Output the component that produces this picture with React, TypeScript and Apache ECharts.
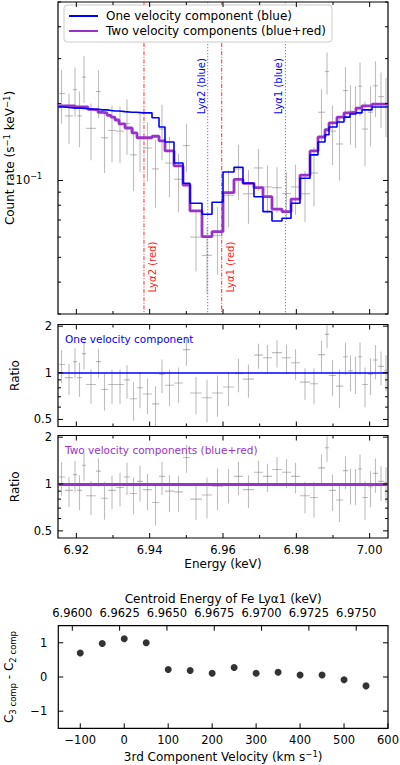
import React, { useEffect, useRef } from "react";
import * as echarts from "echarts";

const binEdges = [6.915, 6.91691, 6.91909, 6.92018, 6.92155, 6.92264, 6.92536, 6.92673, 6.92864, 6.93082, 6.933, 6.93464, 6.93655, 6.93818, 6.94064, 6.94255, 6.94418, 6.94664, 6.94909, 6.951, 6.95427, 6.957, 6.96, 6.963, 6.96545, 6.96845, 6.97091, 6.97336, 6.97609, 6.97855, 6.981, 6.98373, 6.98591, 6.98782, 6.98891, 6.99082, 6.99273, 6.99409, 6.99545, 6.99682, 6.99791, 6.99955, 7.00091, 7.00227, 7.00391, 7.005];
const countRate = [0.219, 0.179, 0.227, 0.179, 0.254, 0.16, 0.223, 0.147, 0.157, 0.156, 0.167, 0.126, 0.147, 0.134, 0.111, 0.159, 0.117, 0.101, 0.137, 0.06, 0.0509, 0.0608, 0.0875, 0.111, 0.0887, 0.112, 0.0944, 0.0937, 0.0889, 0.0944, 0.0887, 0.107, 0.185, 0.267, 0.156, 0.139, 0.225, 0.187, 0.184, 0.234, 0.159, 0.185, 0.235, 0.213, 0.2];
const countErr = [0.052, 0.04, 0.05, 0.044, 0.053, 0.04, 0.047, 0.04, 0.039, 0.039, 0.041, 0.035, 0.039, 0.035, 0.033, 0.039, 0.031, 0.026, 0.029, 0.016, 0.015, 0.018, 0.022, 0.027, 0.021, 0.021, 0.02, 0.019, 0.019, 0.021, 0.02, 0.028, 0.042, 0.05, 0.041, 0.039, 0.053, 0.049, 0.05, 0.055, 0.045, 0.049, 0.058, 0.052, 0.052];
const ratioOne = [1.13, 0.93, 1.18, 0.93, 1.33, 0.84, 1.18, 0.78, 0.84, 0.84, 0.9, 0.68, 0.8, 0.73, 0.63, 0.98, 0.83, 0.86, 1.41, 0.74, 0.69, 0.74, 0.81, 0.99, 0.91, 1.3, 1.25, 1.35, 1.25, 1.16, 0.87, 0.85, 1.31, 1.77, 0.96, 0.82, 1.27, 1.03, 1.0, 1.27, 0.84, 0.98, 1.21, 1.1, 1.03];
const ratioOneErr = [0.27, 0.21, 0.26, 0.23, 0.28, 0.21, 0.25, 0.21, 0.21, 0.21, 0.22, 0.19, 0.21, 0.19, 0.19, 0.24, 0.22, 0.22, 0.3, 0.2, 0.21, 0.22, 0.2, 0.24, 0.22, 0.24, 0.26, 0.27, 0.27, 0.26, 0.2, 0.22, 0.3, 0.33, 0.25, 0.23, 0.3, 0.27, 0.27, 0.3, 0.24, 0.26, 0.3, 0.27, 0.27];
const ratioTwo = [1.11, 0.91, 1.15, 0.91, 1.32, 0.84, 1.21, 0.81, 0.91, 0.95, 1.11, 0.87, 1.04, 0.92, 0.76, 1.12, 0.9, 0.89, 1.48, 0.8, 0.85, 0.97, 1.0, 1.12, 0.92, 1.19, 1.12, 1.24, 1.19, 1.12, 0.84, 0.82, 1.27, 1.71, 0.91, 0.79, 1.22, 1.0, 0.99, 1.25, 0.82, 0.96, 1.17, 1.04, 1.02];
const ratioTwoErr = [0.27, 0.2, 0.26, 0.23, 0.27, 0.21, 0.25, 0.22, 0.22, 0.23, 0.26, 0.23, 0.27, 0.24, 0.22, 0.27, 0.24, 0.23, 0.3, 0.21, 0.25, 0.29, 0.25, 0.27, 0.22, 0.22, 0.23, 0.25, 0.25, 0.25, 0.19, 0.21, 0.28, 0.32, 0.24, 0.22, 0.29, 0.26, 0.26, 0.29, 0.23, 0.25, 0.29, 0.26, 0.26];

const modelEdges = [6.915, 6.91664, 6.918, 6.91964, 6.92127, 6.92318, 6.92455, 6.92591, 6.92727, 6.92836, 6.92945, 6.93055, 6.93164, 6.93327, 6.93518, 6.93655, 6.93818, 6.94064, 6.94255, 6.94418, 6.94664, 6.94909, 6.951, 6.95427, 6.957, 6.96, 6.963, 6.96545, 6.96845, 6.97091, 6.97336, 6.97609, 6.97855, 6.981, 6.98373, 6.98591, 6.98782, 6.98891, 6.99109, 6.993, 6.99464, 6.99627, 6.99791, 7.00064, 7.00282, 7.005];
const modelBlue = [0.194, 0.193, 0.192, 0.192, 0.191, 0.19, 0.19, 0.189, 0.189, 0.188, 0.187, 0.187, 0.186, 0.185, 0.185, 0.184, 0.184, 0.176, 0.162, 0.1415, 0.117, 0.0975, 0.0814, 0.0737, 0.0822, 0.108, 0.1126, 0.0975, 0.0864, 0.0755, 0.0694, 0.0711, 0.0814, 0.102, 0.126, 0.1415, 0.151, 0.162, 0.1695, 0.177, 0.182, 0.184, 0.189, 0.194, 0.194];
const modelPurple = [0.196, 0.196, 0.196, 0.194, 0.194, 0.19, 0.189, 0.185, 0.184, 0.18, 0.177, 0.1725, 0.1665, 0.1605, 0.1535, 0.147, 0.147, 0.149, 0.143, 0.1305, 0.114, 0.096, 0.076, 0.0603, 0.063, 0.0896, 0.101, 0.0975, 0.0937, 0.0864, 0.0773, 0.0755, 0.0846, 0.105, 0.1305, 0.148, 0.158, 0.168, 0.177, 0.184, 0.185, 0.192, 0.196, 0.199, 0.199];

const redLines = [6.93845, 6.95965];
const redLabels = ["Lyα2 (red)", "Lyα1 (red)"];
const blueLines = [6.95583, 6.97702];
const blueLabels = ["Lyα2 (blue)", "Lyα1 (blue)"];

const velocity = [-100, -50, 0, 50, 100, 150, 200, 250, 300, 350, 400, 450, 500, 550];
const deltaC = [0.7, 0.98, 1.12, 1.0, 0.22, 0.19, 0.11, 0.28, 0.11, 0.14, 0.06, 0.06, -0.08, -0.26];

const energyTicks = [6.92, 6.94, 6.96, 6.98, 7.0];
const energyMinorTicks = [6.93, 6.95, 6.97, 6.99];
const countTicks = [0.1];
const countMinorTicks = [0.03, 0.04, 0.05, 0.06, 0.07, 0.08, 0.09, 0.2, 0.3, 0.4, 0.5];
const ratioTicks = [0.5, 1, 2];
const ratioMinorTicks = [0.6, 0.7, 0.8, 0.9];
const velocityTicks = [-100, 0, 100, 200, 300, 400, 500, 600];
const centroidTicks = [6.96, 6.9625, 6.965, 6.9675, 6.97, 6.9725, 6.975];
const deltaTicks = [-1, 0, 1];

const BLUE = "#0000ff";
const PURPLE = "#9932cc";
const RED = "#ff1a1a";
const GRAY = "rgba(125,125,125,0.5)";
const FONT = "DejaVu Sans";

const GRIDS = [
  { left: 58, top: 2, width: 330, height: 312 },
  { left: 58, top: 324.5, width: 330, height: 102 },
  { left: 58, top: 435.5, width: 330, height: 102.5 },
  { left: 58.3, top: 625.7, width: 329.7, height: 102.6 },
];

const near = (a: number, b: number) => Math.abs(a - b) < 1e-6 * Math.max(1, Math.abs(b));
const minus = (v: number) => (v < 0 ? "\u2212" + Math.abs(v) : String(v));

const errItems = (vals: number[], errs: number[]) =>
  vals.map((v, i) => [binEdges[i], binEdges[i + 1], (binEdges[i] + binEdges[i + 1]) / 2, v, v - errs[i], v + errs[i]]);

const stepData = (vals: number[]) => {
  const d = vals.map((v, i) => [modelEdges[i], v]);
  d.push([modelEdges[modelEdges.length - 1], vals[vals.length - 1]]);
  return d;
};

const renderErr = (params: any, api: any) => {
  const a = api.coord([api.value(0), api.value(3)]);
  const b = api.coord([api.value(1), api.value(3)]);
  const c = api.coord([api.value(2), api.value(4)]);
  const d = api.coord([api.value(2), api.value(5)]);
  const style = { stroke: GRAY, lineWidth: 1.1 };
  return {
    type: "group",
    children: [
      { type: "line", shape: { x1: a[0], y1: a[1], x2: b[0], y2: b[1] }, style },
      { type: "line", shape: { x1: c[0], y1: c[1], x2: d[0], y2: d[1] }, style },
    ],
  };
};

const vLineSeries = (vals: number[], color: string, dash: number[], width: number, opacity: number) => ({
  type: "custom",
  xAxisIndex: 0,
  yAxisIndex: 0,
  data: vals.map((x) => [x, 0.1]),
  encode: { x: 0, y: 1 },
  silent: true,
  z: 3,
  renderItem: (params: any, api: any) => {
    const p = api.coord([api.value(0), api.value(1)]);
    const cs = params.coordSys;
    return {
      type: "line",
      shape: { x1: p[0], y1: cs.y, x2: p[0], y2: cs.y + cs.height },
      style: { stroke: color, lineWidth: width, lineDash: dash, opacity },
    };
  },
});

const supRich = {
  n: { fontSize: 12, lineHeight: 16, fontFamily: FONT, color: "#000" },
  s: { fontSize: 8.5, lineHeight: 9, verticalAlign: "top", fontFamily: FONT, color: "#000" },
  b: { fontSize: 8.5, lineHeight: 9, verticalAlign: "bottom", fontFamily: FONT, color: "#000" },
};

const energyAxis = (gi: number, show: boolean) => ({
  type: "value",
  gridIndex: gi,
  min: 6.915,
  max: 7.005,
  interval: 0.005,
  axisLine: { show: false },
  axisTick: { show: false },
  splitLine: { show: false },
  axisLabel: show
    ? {
        margin: 6,
        fontSize: 11.5,
        color: "#000",
        formatter: (v: number) => (near(v / 0.02, Math.round(v / 0.02)) ? v.toFixed(2) : ""),
      }
    : { show: false },
  ...(show
    ? {
        name: "Energy (keV)",
        nameLocation: "middle",
        nameGap: 20,
        nameMoveOverlap: false,
        nameTextStyle: { fontSize: 12, color: "#000", verticalAlign: "top" },
      }
    : {}),
});

const ratioAxis = (gi: number) => ({
  type: "log",
  logBase: 2,
  gridIndex: gi,
  min: 0.45,
  max: 2.05,
  axisLine: { show: false },
  axisTick: { show: false },
  splitLine: { show: false },
  axisLabel: {
    margin: 6,
    fontSize: 11.5,
    color: "#000",
    formatter: (v: number) => (near(v, 0.5) ? "0.5" : near(v, 1) ? "1" : near(v, 2) ? "2" : ""),
  },
  name: "Ratio",
  nameLocation: "middle",
  nameGap: 37,
  nameMoveOverlap: false,
  nameTextStyle: { fontSize: 12, color: "#000" },
});

function buildOption() {
  return {
    animation: false,
    textStyle: { fontFamily: FONT },
    grid: GRIDS.map((g) => ({
      ...g,
      show: true,
      borderColor: "#000",
      borderWidth: 1.2,
      containLabel: false,
      outerBoundsMode: "none",
    })),
    legend: {
      data: ["One velocity component (blue)", "Two velocity components (blue+red)"],
      orient: "vertical",
      left: 64,
      top: 5,
      itemWidth: 29,
      itemHeight: 14,
      itemGap: 3,
      padding: [5, 6, 5, 4],
      backgroundColor: "rgba(255,255,255,0.85)",
      borderColor: "#cccccc",
      borderWidth: 1,
      borderRadius: 3,
      selectedMode: false,
      z: 20,
      itemStyle: { color: "rgba(0,0,0,0)", borderWidth: 0, opacity: 0 },
      textStyle: { fontSize: 12, fontFamily: FONT, color: "#000", padding: [0, 0, 0, 3] },
    },
    xAxis: [
      energyAxis(0, false),
      energyAxis(1, false),
      energyAxis(2, true),
      {
        type: "value",
        gridIndex: 3,
        min: -150,
        max: 600,
        interval: 50,
        axisLine: { show: false },
        axisTick: { show: false },
        splitLine: { show: false },
        axisLabel: {
          margin: 6,
          fontSize: 11.5,
          color: "#000",
          formatter: (v: number) => (Math.round(v) % 100 === 0 ? minus(Math.round(v)) : ""),
        },
        name: "3rd Component Velocity (km s{s|\u22121})",
        nameLocation: "middle",
        nameGap: 21,
        nameMoveOverlap: false,
        nameTextStyle: { fontSize: 12, color: "#000", lineHeight: 16, verticalAlign: "top", rich: supRich },
      },
      {
        type: "value",
        gridIndex: 3,
        position: "top",
        min: 6.95926,
        max: 6.97668,
        axisLine: { show: false },
        axisTick: { show: false },
        splitLine: { show: false },
        axisLabel: {
          margin: 7,
          fontSize: 11.5,
          color: "#000",
          customValues: centroidTicks,
          formatter: (v: number) => v.toFixed(4),
        },
        name: "Centroid Energy of Fe Lyα1 (keV)",
        nameLocation: "middle",
        nameGap: 21,
        nameMoveOverlap: false,
        nameTextStyle: { fontSize: 12, color: "#000", verticalAlign: "bottom" },
      },
    ],
    yAxis: [
      {
        type: "log",
        logBase: 10,
        gridIndex: 0,
        min: 0.03,
        max: 0.5,
        axisLine: { show: false },
        axisTick: { show: false },
        splitLine: { show: false },
        axisLabel: {
          margin: 16,
          color: "#000",
          formatter: (v: number) => (near(v, 0.1) ? "{m|10}{t|\u22121}" : ""),
          rich: {
            m: { fontSize: 11.5, lineHeight: 15, fontFamily: FONT, color: "#000" },
            t: { fontSize: 8, lineHeight: 9, verticalAlign: "top", fontFamily: FONT, color: "#000" },
          },
        },
        name: "{n|Count rate (s}{s|\u22121}{n| keV}{s|\u22121}{n|)}",
        nameLocation: "middle",
        nameGap: 40,
        nameMoveOverlap: false,
        nameTextStyle: { rich: supRich },
      },
      ratioAxis(1),
      ratioAxis(2),
      {
        type: "value",
        gridIndex: 3,
        min: -1.5,
        max: 1.5,
        interval: 0.5,
        axisLine: { show: false },
        axisTick: { show: false },
        splitLine: { show: false },
        axisLabel: {
          margin: 11,
          fontSize: 11.5,
          color: "#000",
          formatter: (v: number) => (near(v, Math.round(v)) ? minus(Math.round(v)) : ""),
        },
        name: "{n|C}{b|3 comp}{n| - C}{b|2 comp}",
        nameLocation: "middle",
        nameGap: 41,
        nameMoveOverlap: false,
        nameTextStyle: { rich: supRich },
      },
    ],
    series: [
      {
        type: "custom",
        name: "spectrum",
        xAxisIndex: 0,
        yAxisIndex: 0,
        data: errItems(countRate, countErr),
        renderItem: renderErr,
        encode: { x: [0, 1, 2], y: [3, 4, 5] },
        clip: true,
        silent: true,
        z: 2,
      },
      vLineSeries(redLines, RED, [4, 1.6, 1, 1.6], 1, 0.9),
      vLineSeries(blueLines, "#2a2aff", [1.3, 1.7], 0.9, 0.75),
      {
        type: "line",
        name: "Two velocity components (blue+red)",
        xAxisIndex: 0,
        yAxisIndex: 0,
        step: "end",
        symbol: "none",
        data: stepData(modelPurple),
        lineStyle: { color: PURPLE, width: 2.8 },
        itemStyle: { color: PURPLE },
        z: 4,
      },
      {
        type: "line",
        name: "One velocity component (blue)",
        xAxisIndex: 0,
        yAxisIndex: 0,
        step: "end",
        symbol: "none",
        data: stepData(modelBlue),
        lineStyle: { color: BLUE, width: 1.6 },
        itemStyle: { color: BLUE },
        z: 5,
      },
      {
        type: "custom",
        name: "ratio1",
        xAxisIndex: 1,
        yAxisIndex: 1,
        data: errItems(ratioOne, ratioOneErr),
        renderItem: renderErr,
        encode: { x: [0, 1, 2], y: [3, 4, 5] },
        clip: true,
        silent: true,
        z: 2,
      },
      {
        type: "line",
        name: "unity1",
        xAxisIndex: 1,
        yAxisIndex: 1,
        data: [],
        z: 4,
        markLine: {
          silent: true,
          symbol: ["none", "none"],
          label: { show: false },
          lineStyle: { color: BLUE, type: "solid", width: 1.6 },
          data: [{ yAxis: 1 }],
        },
      },
      {
        type: "custom",
        name: "ratio2",
        xAxisIndex: 2,
        yAxisIndex: 2,
        data: errItems(ratioTwo, ratioTwoErr),
        renderItem: renderErr,
        encode: { x: [0, 1, 2], y: [3, 4, 5] },
        clip: true,
        silent: true,
        z: 2,
      },
      {
        type: "line",
        name: "unity2",
        xAxisIndex: 2,
        yAxisIndex: 2,
        data: [],
        z: 4,
        markLine: {
          silent: true,
          symbol: ["none", "none"],
          label: { show: false },
          lineStyle: { color: PURPLE, type: "solid", width: 3 },
          data: [{ yAxis: 1 }],
        },
      },
      {
        type: "scatter",
        name: "deltaC",
        xAxisIndex: 3,
        yAxisIndex: 3,
        data: velocity.map((v, i) => [v, deltaC[i]]),
        symbol: "circle",
        symbolSize: 7,
        itemStyle: { color: "#000" },
        silent: true,
        z: 5,
      },
    ],
  };
}

function buildGraphics(chart: any) {
  const els: any[] = [];
  const tick = (x1: number, y1: number, x2: number, y2: number) =>
    els.push({ type: "line", silent: true, z: 100, shape: { x1, y1, x2, y2 }, style: { stroke: "#000", lineWidth: 1 } });
  const px = (i: number, v: number) => chart.convertToPixel({ xAxisIndex: i }, v);
  const py = (i: number, v: number) => chart.convertToPixel({ yAxisIndex: i }, v);
  const MAJ = 5;
  const MIN = 3;
  const xTicks = (axis: number, g: any, vals: number[], len: number, top: boolean, bottom: boolean) => {
    vals.forEach((v) => {
      const x = px(axis, v);
      if (top) tick(x, g.top, x, g.top + len);
      if (bottom) tick(x, g.top + g.height, x, g.top + g.height - len);
    });
  };
  const yTicks = (axis: number, g: any, vals: number[], len: number) => {
    vals.forEach((v) => {
      const y = py(axis, v);
      tick(g.left, y, g.left + len, y);
      tick(g.left + g.width, y, g.left + g.width - len, y);
    });
  };
  [0, 1, 2].forEach((i) => {
    xTicks(i, GRIDS[i], energyTicks, MAJ, true, true);
    xTicks(i, GRIDS[i], energyMinorTicks, MIN, true, true);
  });
  yTicks(0, GRIDS[0], countTicks, MAJ);
  yTicks(0, GRIDS[0], countMinorTicks, MIN);
  yTicks(1, GRIDS[1], ratioTicks, MAJ);
  yTicks(1, GRIDS[1], ratioMinorTicks, MIN);
  yTicks(2, GRIDS[2], ratioTicks, MAJ);
  yTicks(2, GRIDS[2], ratioMinorTicks, MIN);
  xTicks(3, GRIDS[3], velocityTicks, MAJ, false, true);
  xTicks(4, GRIDS[3], centroidTicks, MAJ, true, false);
  yTicks(3, GRIDS[3], deltaTicks, MAJ);

  const redLabelLevel = 0.0458;
  const blueLabelLevel = 0.234;
  redLines.forEach((e, i) =>
    els.push({
      type: "text",
      silent: true,
      z: 50,
      x: px(0, e) + 8.5,
      y: py(0, redLabelLevel),
      rotation: Math.PI / 2,
      style: { text: redLabels[i], fill: RED, fontSize: 10, fontFamily: FONT, align: "center", verticalAlign: "middle" },
    })
  );
  blueLines.forEach((e, i) =>
    els.push({
      type: "text",
      silent: true,
      z: 50,
      x: px(0, e) - 6.5,
      y: py(0, blueLabelLevel),
      rotation: Math.PI / 2,
      style: { text: blueLabels[i], fill: BLUE, fontSize: 10, fontFamily: FONT, align: "center", verticalAlign: "middle" },
    })
  );
  els.push({
    type: "text",
    silent: true,
    z: 50,
    x: GRIDS[1].left + 7,
    y: GRIDS[1].top + 14,
    style: { text: "One velocity component", fill: BLUE, fontSize: 10.5, fontFamily: FONT, align: "left", verticalAlign: "middle" },
  });
  els.push({
    type: "text",
    silent: true,
    z: 50,
    x: GRIDS[2].left + 7,
    y: GRIDS[2].top + 14.5,
    style: { text: "Two velocity components (blue+red)", fill: PURPLE, fontSize: 10.5, fontFamily: FONT, align: "left", verticalAlign: "middle" },
  });
  return els;
}

export default function App() {
  const ref = useRef<HTMLDivElement>(null);
  useEffect(() => {
    const chart = echarts.init(ref.current as HTMLDivElement, null, { renderer: "svg" });
    chart.setOption(buildOption() as any);
    chart.setOption({ graphic: buildGraphics(chart) } as any);
    return () => chart.dispose();
  }, []);
  return (
    <div
      ref={ref}
      style={{ position: "absolute", left: 0, top: 0, width: 400, height: 765, background: "#fff" }}
    />
  );
}
